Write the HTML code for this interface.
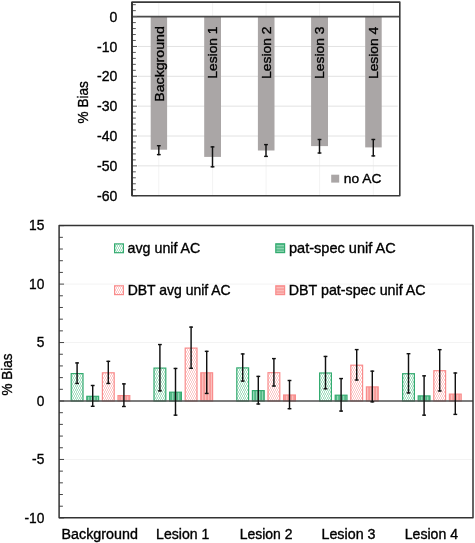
<!DOCTYPE html>
<html><head><meta charset="utf-8"><style>
html,body{margin:0;padding:0;background:#fff;width:475px;height:543px;overflow:hidden}
svg{display:block}
text{font-family:"Liberation Sans", sans-serif;stroke:#000;stroke-width:0.35px}
svg{will-change:transform}
</style></head><body>
<svg width="475" height="543" viewBox="0 0 475 543">
<defs>
<pattern id="gz" width="4" height="4" patternUnits="userSpaceOnUse">
<rect width="4" height="4" fill="#ffffff"/>
<path d="M0,0 L2,2 L0,4 M2,0 L4,2 L2,4" fill="none" stroke="#9cdbbb" stroke-width="0.9"/>
<path d="M-0.5,2 L0.5,2 M3.5,2 L4.5,2" stroke="#9cdbbb" stroke-width="0.9"/>
</pattern>
<pattern id="pz" width="4" height="4" patternUnits="userSpaceOnUse">
<rect width="4" height="4" fill="#ffffff"/>
<path d="M0,0 L2,2 L0,4 M2,0 L4,2 L2,4" fill="none" stroke="#fcc2c2" stroke-width="0.9"/>
</pattern>
<pattern id="gg" width="3" height="3" patternUnits="userSpaceOnUse">
<rect width="3" height="3" fill="#52b886"/>
<rect x="1.2" width="1" height="3" fill="#a3e0c2"/>
</pattern>
<pattern id="pg" width="3" height="3" patternUnits="userSpaceOnUse">
<rect width="3" height="3" fill="#f99a98"/>
<rect x="1.2" width="1" height="3" fill="#fcc8c6"/>
</pattern>
<pattern id="ggl" width="3" height="2.9" patternUnits="userSpaceOnUse" y="244">
<rect width="3" height="2.9" fill="#52b886"/>
<rect y="1.2" width="3" height="1" fill="#a3e0c2"/>
</pattern>
<pattern id="pgl" width="3" height="2.9" patternUnits="userSpaceOnUse" y="286">
<rect width="3" height="2.9" fill="#f99a98"/>
<rect y="1.2" width="3" height="1" fill="#fcc8c6"/>
</pattern>
</defs>
<rect width="475" height="543" fill="#fff"/>
<line x1="158.8" y1="2.1" x2="158.8" y2="195.7" stroke="#f3f3f3" stroke-width="1"/>
<line x1="212.6" y1="2.1" x2="212.6" y2="195.7" stroke="#f3f3f3" stroke-width="1"/>
<line x1="266.1" y1="2.1" x2="266.1" y2="195.7" stroke="#f3f3f3" stroke-width="1"/>
<line x1="319.6" y1="2.1" x2="319.6" y2="195.7" stroke="#f3f3f3" stroke-width="1"/>
<line x1="373.3" y1="2.1" x2="373.3" y2="195.7" stroke="#f3f3f3" stroke-width="1"/>
<line x1="138.0" y1="46.45" x2="397.8" y2="46.45" stroke="#e2e2e2" stroke-width="1"/>
<line x1="138.0" y1="76.30" x2="397.8" y2="76.30" stroke="#e2e2e2" stroke-width="1"/>
<line x1="138.0" y1="106.15" x2="397.8" y2="106.15" stroke="#e2e2e2" stroke-width="1"/>
<line x1="138.0" y1="136.00" x2="397.8" y2="136.00" stroke="#e2e2e2" stroke-width="1"/>
<line x1="138.0" y1="165.85" x2="397.8" y2="165.85" stroke="#e2e2e2" stroke-width="1"/>
<rect x="150.70" y="16.60" width="16.40" height="133.10" fill="#aaa6a6"/>
<rect x="204.20" y="16.60" width="16.80" height="140.30" fill="#aaa6a6"/>
<rect x="257.90" y="16.60" width="16.60" height="133.90" fill="#aaa6a6"/>
<rect x="311.10" y="16.60" width="16.90" height="129.50" fill="#aaa6a6"/>
<rect x="365.20" y="16.60" width="16.50" height="130.80" fill="#aaa6a6"/>
<text transform="translate(163.65,101.73) rotate(-90) scale(1.0490,1)" font-size="13.5" fill="#000">Background</text>
<text transform="translate(217.45,78.71) rotate(-90) scale(1.0249,1)" font-size="13.5" fill="#000">Lesion 1</text>
<text transform="translate(270.95,79.01) rotate(-90) scale(1.0309,1)" font-size="13.5" fill="#000">Lesion 2</text>
<text transform="translate(324.45,79.01) rotate(-90) scale(1.0295,1)" font-size="13.5" fill="#000">Lesion 3</text>
<text transform="translate(378.15,79.01) rotate(-90) scale(1.0253,1)" font-size="13.5" fill="#000">Lesion 4</text>
<line x1="158.8" y1="145.1" x2="158.8" y2="155.2" stroke="#111" stroke-width="1.45"/>
<line x1="156.9" y1="145.7" x2="160.70000000000002" y2="145.7" stroke="#111" stroke-width="1.4"/>
<line x1="156.9" y1="154.6" x2="160.70000000000002" y2="154.6" stroke="#111" stroke-width="1.4"/>
<line x1="212.5" y1="146.3" x2="212.5" y2="167.4" stroke="#111" stroke-width="1.45"/>
<line x1="210.6" y1="146.9" x2="214.4" y2="146.9" stroke="#111" stroke-width="1.4"/>
<line x1="210.6" y1="166.8" x2="214.4" y2="166.8" stroke="#111" stroke-width="1.4"/>
<line x1="266.0" y1="144.0" x2="266.0" y2="157.0" stroke="#111" stroke-width="1.45"/>
<line x1="264.1" y1="144.6" x2="267.9" y2="144.6" stroke="#111" stroke-width="1.4"/>
<line x1="264.1" y1="156.4" x2="267.9" y2="156.4" stroke="#111" stroke-width="1.4"/>
<line x1="319.5" y1="138.9" x2="319.5" y2="153.6" stroke="#111" stroke-width="1.45"/>
<line x1="317.6" y1="139.5" x2="321.4" y2="139.5" stroke="#111" stroke-width="1.4"/>
<line x1="317.6" y1="153.0" x2="321.4" y2="153.0" stroke="#111" stroke-width="1.4"/>
<line x1="373.3" y1="138.9" x2="373.3" y2="156.5" stroke="#111" stroke-width="1.45"/>
<line x1="371.40000000000003" y1="139.5" x2="375.2" y2="139.5" stroke="#111" stroke-width="1.4"/>
<line x1="371.40000000000003" y1="155.9" x2="375.2" y2="155.9" stroke="#111" stroke-width="1.4"/>
<line x1="132.0" y1="16.60" x2="399.8" y2="16.60" stroke="#4a4a4a" stroke-width="1.6"/>
<line x1="132.0" y1="4.66" x2="135.8" y2="4.66" stroke="#606060" stroke-width="1.05"/>
<line x1="132.0" y1="10.63" x2="135.8" y2="10.63" stroke="#606060" stroke-width="1.05"/>
<line x1="132.0" y1="16.60" x2="137.0" y2="16.60" stroke="#606060" stroke-width="1.05"/>
<line x1="132.0" y1="22.57" x2="135.8" y2="22.57" stroke="#606060" stroke-width="1.05"/>
<line x1="132.0" y1="28.54" x2="135.8" y2="28.54" stroke="#606060" stroke-width="1.05"/>
<line x1="132.0" y1="34.51" x2="135.8" y2="34.51" stroke="#606060" stroke-width="1.05"/>
<line x1="132.0" y1="40.48" x2="135.8" y2="40.48" stroke="#606060" stroke-width="1.05"/>
<line x1="132.0" y1="46.45" x2="137.0" y2="46.45" stroke="#606060" stroke-width="1.05"/>
<line x1="132.0" y1="52.42" x2="135.8" y2="52.42" stroke="#606060" stroke-width="1.05"/>
<line x1="132.0" y1="58.39" x2="135.8" y2="58.39" stroke="#606060" stroke-width="1.05"/>
<line x1="132.0" y1="64.36" x2="135.8" y2="64.36" stroke="#606060" stroke-width="1.05"/>
<line x1="132.0" y1="70.33" x2="135.8" y2="70.33" stroke="#606060" stroke-width="1.05"/>
<line x1="132.0" y1="76.30" x2="137.0" y2="76.30" stroke="#606060" stroke-width="1.05"/>
<line x1="132.0" y1="82.27" x2="135.8" y2="82.27" stroke="#606060" stroke-width="1.05"/>
<line x1="132.0" y1="88.24" x2="135.8" y2="88.24" stroke="#606060" stroke-width="1.05"/>
<line x1="132.0" y1="94.21" x2="135.8" y2="94.21" stroke="#606060" stroke-width="1.05"/>
<line x1="132.0" y1="100.18" x2="135.8" y2="100.18" stroke="#606060" stroke-width="1.05"/>
<line x1="132.0" y1="106.15" x2="137.0" y2="106.15" stroke="#606060" stroke-width="1.05"/>
<line x1="132.0" y1="112.12" x2="135.8" y2="112.12" stroke="#606060" stroke-width="1.05"/>
<line x1="132.0" y1="118.09" x2="135.8" y2="118.09" stroke="#606060" stroke-width="1.05"/>
<line x1="132.0" y1="124.06" x2="135.8" y2="124.06" stroke="#606060" stroke-width="1.05"/>
<line x1="132.0" y1="130.03" x2="135.8" y2="130.03" stroke="#606060" stroke-width="1.05"/>
<line x1="132.0" y1="136.00" x2="137.0" y2="136.00" stroke="#606060" stroke-width="1.05"/>
<line x1="132.0" y1="141.97" x2="135.8" y2="141.97" stroke="#606060" stroke-width="1.05"/>
<line x1="132.0" y1="147.94" x2="135.8" y2="147.94" stroke="#606060" stroke-width="1.05"/>
<line x1="132.0" y1="153.91" x2="135.8" y2="153.91" stroke="#606060" stroke-width="1.05"/>
<line x1="132.0" y1="159.88" x2="135.8" y2="159.88" stroke="#606060" stroke-width="1.05"/>
<line x1="132.0" y1="165.85" x2="137.0" y2="165.85" stroke="#606060" stroke-width="1.05"/>
<line x1="132.0" y1="171.82" x2="135.8" y2="171.82" stroke="#606060" stroke-width="1.05"/>
<line x1="132.0" y1="177.79" x2="135.8" y2="177.79" stroke="#606060" stroke-width="1.05"/>
<line x1="132.0" y1="183.76" x2="135.8" y2="183.76" stroke="#606060" stroke-width="1.05"/>
<line x1="132.0" y1="189.73" x2="135.8" y2="189.73" stroke="#606060" stroke-width="1.05"/>
<line x1="132.0" y1="195.70" x2="137.0" y2="195.70" stroke="#606060" stroke-width="1.05"/>
<rect x="132.0" y="2.1" width="267.80" height="193.60" fill="none" stroke="#3a3a3a" stroke-width="1.6" stroke-linejoin="round"/>
<line x1="132.0" y1="2.1" x2="132.0" y2="195.7" stroke="#2e2e2e" stroke-width="1.6"/>
<text transform="translate(109.56,21.70) scale(0.9700,1)" font-size="14.5" fill="#000">0</text>
<text transform="translate(97.04,51.55) scale(0.9700,1)" font-size="14.5" fill="#000">-10</text>
<text transform="translate(97.04,81.40) scale(0.9700,1)" font-size="14.5" fill="#000">-20</text>
<text transform="translate(97.04,111.25) scale(0.9700,1)" font-size="14.5" fill="#000">-30</text>
<text transform="translate(97.04,141.10) scale(0.9700,1)" font-size="14.5" fill="#000">-40</text>
<text transform="translate(97.04,170.95) scale(0.9700,1)" font-size="14.5" fill="#000">-50</text>
<text transform="translate(97.04,200.80) scale(0.9700,1)" font-size="14.5" fill="#000">-60</text>
<text transform="translate(87.60,123.48) rotate(-90) scale(0.9079,1)" font-size="15" fill="#000">% Bias</text>
<rect x="331.2" y="174.7" width="8.0" height="7.9" fill="#aaa6a6"/>
<text transform="translate(343.80,182.90) scale(1.0226,1)" font-size="13.5" fill="#000">no AC</text>
<line x1="65.1" y1="284.10" x2="472.0" y2="284.10" stroke="#f3f3f3" stroke-width="1"/>
<line x1="65.1" y1="342.55" x2="472.0" y2="342.55" stroke="#f3f3f3" stroke-width="1"/>
<line x1="65.1" y1="459.45" x2="472.0" y2="459.45" stroke="#f3f3f3" stroke-width="1"/>
<rect x="71.20" y="373.60" width="11.80" height="27.40" fill="url(#gz)" stroke="#34ab70" stroke-width="1.2"/>
<rect x="86.80" y="396.30" width="11.80" height="4.70" fill="url(#gg)" stroke="#34ab70" stroke-width="1.2"/>
<rect x="102.40" y="372.80" width="11.80" height="28.20" fill="url(#pz)" stroke="#f98c8c" stroke-width="1.2"/>
<rect x="118.00" y="395.60" width="11.80" height="5.40" fill="url(#pg)" stroke="#f98c8c" stroke-width="1.2"/>
<rect x="154.00" y="368.10" width="11.80" height="32.90" fill="url(#gz)" stroke="#34ab70" stroke-width="1.2"/>
<rect x="169.60" y="392.20" width="11.80" height="8.80" fill="url(#gg)" stroke="#34ab70" stroke-width="1.2"/>
<rect x="185.20" y="348.10" width="11.80" height="52.90" fill="url(#pz)" stroke="#f98c8c" stroke-width="1.2"/>
<rect x="200.80" y="372.80" width="11.80" height="28.20" fill="url(#pg)" stroke="#f98c8c" stroke-width="1.2"/>
<rect x="236.80" y="367.90" width="11.80" height="33.10" fill="url(#gz)" stroke="#34ab70" stroke-width="1.2"/>
<rect x="252.40" y="390.60" width="11.80" height="10.40" fill="url(#gg)" stroke="#34ab70" stroke-width="1.2"/>
<rect x="268.00" y="372.70" width="11.80" height="28.30" fill="url(#pz)" stroke="#f98c8c" stroke-width="1.2"/>
<rect x="283.60" y="395.00" width="11.80" height="6.00" fill="url(#pg)" stroke="#f98c8c" stroke-width="1.2"/>
<rect x="319.60" y="373.00" width="11.80" height="28.00" fill="url(#gz)" stroke="#34ab70" stroke-width="1.2"/>
<rect x="335.20" y="395.20" width="11.80" height="5.80" fill="url(#gg)" stroke="#34ab70" stroke-width="1.2"/>
<rect x="350.80" y="365.20" width="11.80" height="35.80" fill="url(#pz)" stroke="#f98c8c" stroke-width="1.2"/>
<rect x="366.40" y="386.90" width="11.80" height="14.10" fill="url(#pg)" stroke="#f98c8c" stroke-width="1.2"/>
<rect x="402.60" y="373.70" width="11.80" height="27.30" fill="url(#gz)" stroke="#34ab70" stroke-width="1.2"/>
<rect x="418.20" y="395.90" width="11.80" height="5.10" fill="url(#gg)" stroke="#34ab70" stroke-width="1.2"/>
<rect x="433.80" y="370.70" width="11.80" height="30.30" fill="url(#pz)" stroke="#f98c8c" stroke-width="1.2"/>
<rect x="449.40" y="394.10" width="11.80" height="6.90" fill="url(#pg)" stroke="#f98c8c" stroke-width="1.2"/>
<line x1="59.1" y1="401.00" x2="473.0" y2="401.00" stroke="#505050" stroke-width="1.5"/>
<line x1="77.10" y1="362.35" x2="77.10" y2="384.05" stroke="#111" stroke-width="1.45"/>
<line x1="75.20" y1="362.95" x2="79.00" y2="362.95" stroke="#111" stroke-width="1.4"/>
<line x1="75.20" y1="383.45" x2="79.00" y2="383.45" stroke="#111" stroke-width="1.4"/>
<line x1="92.70" y1="384.90" x2="92.70" y2="406.90" stroke="#111" stroke-width="1.45"/>
<line x1="90.80" y1="385.50" x2="94.60" y2="385.50" stroke="#111" stroke-width="1.4"/>
<line x1="90.80" y1="406.30" x2="94.60" y2="406.30" stroke="#111" stroke-width="1.4"/>
<line x1="108.30" y1="360.75" x2="108.30" y2="384.05" stroke="#111" stroke-width="1.45"/>
<line x1="106.40" y1="361.35" x2="110.20" y2="361.35" stroke="#111" stroke-width="1.4"/>
<line x1="106.40" y1="383.45" x2="110.20" y2="383.45" stroke="#111" stroke-width="1.4"/>
<line x1="123.90" y1="383.30" x2="123.90" y2="407.10" stroke="#111" stroke-width="1.45"/>
<line x1="122.00" y1="383.90" x2="125.80" y2="383.90" stroke="#111" stroke-width="1.4"/>
<line x1="122.00" y1="406.50" x2="125.80" y2="406.50" stroke="#111" stroke-width="1.4"/>
<line x1="159.90" y1="343.95" x2="159.90" y2="391.45" stroke="#111" stroke-width="1.45"/>
<line x1="158.00" y1="344.55" x2="161.80" y2="344.55" stroke="#111" stroke-width="1.4"/>
<line x1="158.00" y1="390.85" x2="161.80" y2="390.85" stroke="#111" stroke-width="1.4"/>
<line x1="175.50" y1="367.85" x2="175.50" y2="415.75" stroke="#111" stroke-width="1.45"/>
<line x1="173.60" y1="368.45" x2="177.40" y2="368.45" stroke="#111" stroke-width="1.4"/>
<line x1="173.60" y1="415.15" x2="177.40" y2="415.15" stroke="#111" stroke-width="1.4"/>
<line x1="191.10" y1="326.50" x2="191.10" y2="368.90" stroke="#111" stroke-width="1.45"/>
<line x1="189.20" y1="327.10" x2="193.00" y2="327.10" stroke="#111" stroke-width="1.4"/>
<line x1="189.20" y1="368.30" x2="193.00" y2="368.30" stroke="#111" stroke-width="1.4"/>
<line x1="206.70" y1="350.75" x2="206.70" y2="394.05" stroke="#111" stroke-width="1.45"/>
<line x1="204.80" y1="351.35" x2="208.60" y2="351.35" stroke="#111" stroke-width="1.4"/>
<line x1="204.80" y1="393.45" x2="208.60" y2="393.45" stroke="#111" stroke-width="1.4"/>
<line x1="242.70" y1="353.35" x2="242.70" y2="381.65" stroke="#111" stroke-width="1.45"/>
<line x1="240.80" y1="353.95" x2="244.60" y2="353.95" stroke="#111" stroke-width="1.4"/>
<line x1="240.80" y1="381.05" x2="244.60" y2="381.05" stroke="#111" stroke-width="1.4"/>
<line x1="258.30" y1="375.80" x2="258.30" y2="404.60" stroke="#111" stroke-width="1.45"/>
<line x1="256.40" y1="376.40" x2="260.20" y2="376.40" stroke="#111" stroke-width="1.4"/>
<line x1="256.40" y1="404.00" x2="260.20" y2="404.00" stroke="#111" stroke-width="1.4"/>
<line x1="273.90" y1="358.00" x2="273.90" y2="386.60" stroke="#111" stroke-width="1.45"/>
<line x1="272.00" y1="358.60" x2="275.80" y2="358.60" stroke="#111" stroke-width="1.4"/>
<line x1="272.00" y1="386.00" x2="275.80" y2="386.00" stroke="#111" stroke-width="1.4"/>
<line x1="289.50" y1="379.90" x2="289.50" y2="409.30" stroke="#111" stroke-width="1.45"/>
<line x1="287.60" y1="380.50" x2="291.40" y2="380.50" stroke="#111" stroke-width="1.4"/>
<line x1="287.60" y1="408.70" x2="291.40" y2="408.70" stroke="#111" stroke-width="1.4"/>
<line x1="325.50" y1="355.85" x2="325.50" y2="389.35" stroke="#111" stroke-width="1.45"/>
<line x1="323.60" y1="356.45" x2="327.40" y2="356.45" stroke="#111" stroke-width="1.4"/>
<line x1="323.60" y1="388.75" x2="327.40" y2="388.75" stroke="#111" stroke-width="1.4"/>
<line x1="341.10" y1="377.95" x2="341.10" y2="411.65" stroke="#111" stroke-width="1.45"/>
<line x1="339.20" y1="378.55" x2="343.00" y2="378.55" stroke="#111" stroke-width="1.4"/>
<line x1="339.20" y1="411.05" x2="343.00" y2="411.05" stroke="#111" stroke-width="1.4"/>
<line x1="356.70" y1="349.00" x2="356.70" y2="380.60" stroke="#111" stroke-width="1.45"/>
<line x1="354.80" y1="349.60" x2="358.60" y2="349.60" stroke="#111" stroke-width="1.4"/>
<line x1="354.80" y1="380.00" x2="358.60" y2="380.00" stroke="#111" stroke-width="1.4"/>
<line x1="372.30" y1="370.55" x2="372.30" y2="402.45" stroke="#111" stroke-width="1.45"/>
<line x1="370.40" y1="371.15" x2="374.20" y2="371.15" stroke="#111" stroke-width="1.4"/>
<line x1="370.40" y1="401.85" x2="374.20" y2="401.85" stroke="#111" stroke-width="1.4"/>
<line x1="408.50" y1="353.10" x2="408.50" y2="393.50" stroke="#111" stroke-width="1.45"/>
<line x1="406.60" y1="353.70" x2="410.40" y2="353.70" stroke="#111" stroke-width="1.4"/>
<line x1="406.60" y1="392.90" x2="410.40" y2="392.90" stroke="#111" stroke-width="1.4"/>
<line x1="424.10" y1="375.25" x2="424.10" y2="415.75" stroke="#111" stroke-width="1.45"/>
<line x1="422.20" y1="375.85" x2="426.00" y2="375.85" stroke="#111" stroke-width="1.4"/>
<line x1="422.20" y1="415.15" x2="426.00" y2="415.15" stroke="#111" stroke-width="1.4"/>
<line x1="439.70" y1="349.05" x2="439.70" y2="391.55" stroke="#111" stroke-width="1.45"/>
<line x1="437.80" y1="349.65" x2="441.60" y2="349.65" stroke="#111" stroke-width="1.4"/>
<line x1="437.80" y1="390.95" x2="441.60" y2="390.95" stroke="#111" stroke-width="1.4"/>
<line x1="455.30" y1="372.40" x2="455.30" y2="415.00" stroke="#111" stroke-width="1.45"/>
<line x1="453.40" y1="373.00" x2="457.20" y2="373.00" stroke="#111" stroke-width="1.4"/>
<line x1="453.40" y1="414.40" x2="457.20" y2="414.40" stroke="#111" stroke-width="1.4"/>
<line x1="59.1" y1="225.65" x2="64.1" y2="225.65" stroke="#454545" stroke-width="1"/>
<line x1="59.1" y1="237.34" x2="62.9" y2="237.34" stroke="#454545" stroke-width="1"/>
<line x1="59.1" y1="249.03" x2="62.9" y2="249.03" stroke="#454545" stroke-width="1"/>
<line x1="59.1" y1="260.72" x2="62.9" y2="260.72" stroke="#454545" stroke-width="1"/>
<line x1="59.1" y1="272.41" x2="62.9" y2="272.41" stroke="#454545" stroke-width="1"/>
<line x1="59.1" y1="284.10" x2="64.1" y2="284.10" stroke="#454545" stroke-width="1"/>
<line x1="59.1" y1="295.79" x2="62.9" y2="295.79" stroke="#454545" stroke-width="1"/>
<line x1="59.1" y1="307.48" x2="62.9" y2="307.48" stroke="#454545" stroke-width="1"/>
<line x1="59.1" y1="319.17" x2="62.9" y2="319.17" stroke="#454545" stroke-width="1"/>
<line x1="59.1" y1="330.86" x2="62.9" y2="330.86" stroke="#454545" stroke-width="1"/>
<line x1="59.1" y1="342.55" x2="64.1" y2="342.55" stroke="#454545" stroke-width="1"/>
<line x1="59.1" y1="354.24" x2="62.9" y2="354.24" stroke="#454545" stroke-width="1"/>
<line x1="59.1" y1="365.93" x2="62.9" y2="365.93" stroke="#454545" stroke-width="1"/>
<line x1="59.1" y1="377.62" x2="62.9" y2="377.62" stroke="#454545" stroke-width="1"/>
<line x1="59.1" y1="389.31" x2="62.9" y2="389.31" stroke="#454545" stroke-width="1"/>
<line x1="59.1" y1="401.00" x2="64.1" y2="401.00" stroke="#454545" stroke-width="1"/>
<line x1="59.1" y1="412.69" x2="62.9" y2="412.69" stroke="#454545" stroke-width="1"/>
<line x1="59.1" y1="424.38" x2="62.9" y2="424.38" stroke="#454545" stroke-width="1"/>
<line x1="59.1" y1="436.07" x2="62.9" y2="436.07" stroke="#454545" stroke-width="1"/>
<line x1="59.1" y1="447.76" x2="62.9" y2="447.76" stroke="#454545" stroke-width="1"/>
<line x1="59.1" y1="459.45" x2="64.1" y2="459.45" stroke="#454545" stroke-width="1"/>
<line x1="59.1" y1="471.14" x2="62.9" y2="471.14" stroke="#454545" stroke-width="1"/>
<line x1="59.1" y1="482.83" x2="62.9" y2="482.83" stroke="#454545" stroke-width="1"/>
<line x1="59.1" y1="494.52" x2="62.9" y2="494.52" stroke="#454545" stroke-width="1"/>
<line x1="59.1" y1="506.21" x2="62.9" y2="506.21" stroke="#454545" stroke-width="1"/>
<line x1="59.1" y1="517.90" x2="64.1" y2="517.90" stroke="#454545" stroke-width="1"/>
<rect x="59.1" y="225.4" width="413.90" height="292.30" fill="none" stroke="#333" stroke-width="1.5" stroke-linejoin="round"/>
<text transform="translate(29.06,230.45) scale(0.9500,1)" font-size="14.5" fill="#000">15</text>
<text transform="translate(29.06,288.90) scale(0.9500,1)" font-size="14.5" fill="#000">10</text>
<text transform="translate(36.71,347.35) scale(0.9500,1)" font-size="14.5" fill="#000">5</text>
<text transform="translate(36.71,405.80) scale(0.9500,1)" font-size="14.5" fill="#000">0</text>
<text transform="translate(32.09,464.25) scale(0.9500,1)" font-size="14.5" fill="#000">-5</text>
<text transform="translate(24.45,522.70) scale(0.9500,1)" font-size="14.5" fill="#000">-10</text>
<text transform="translate(12.20,395.47) rotate(-90) scale(0.8991,1)" font-size="15" fill="#000">% Bias</text>
<text transform="translate(61.56,538.60) scale(1.0360,1)" font-size="13.8" fill="#000">Background</text>
<text transform="translate(156.07,538.60) scale(1.0204,1)" font-size="13.8" fill="#000">Lesion 1</text>
<text transform="translate(239.68,538.60) scale(1.0125,1)" font-size="13.8" fill="#000">Lesion 2</text>
<text transform="translate(321.46,538.60) scale(1.0369,1)" font-size="13.8" fill="#000">Lesion 3</text>
<text transform="translate(404.77,538.60) scale(1.0208,1)" font-size="13.8" fill="#000">Lesion 4</text>
<rect x="114.60" y="243.90" width="8.8" height="8.8" fill="url(#gz)" stroke="#34ab70" stroke-width="1.2"/>
<text transform="translate(127.56,252.60) scale(1.0034,1)" font-size="14.2" fill="#000">avg unif AC</text>
<rect x="275.80" y="243.80" width="8.8" height="8.8" fill="url(#ggl)" stroke="#34ab70" stroke-width="1.2"/>
<text transform="translate(288.95,252.60) scale(1.0266,1)" font-size="14.2" fill="#000">pat-spec unif AC</text>
<rect x="114.60" y="285.80" width="8.8" height="8.8" fill="url(#pz)" stroke="#f98c8c" stroke-width="1.2"/>
<text transform="translate(127.68,294.60) scale(0.9849,1)" font-size="14.2" fill="#000">DBT avg unif AC</text>
<rect x="275.80" y="285.80" width="8.8" height="8.8" fill="url(#pgl)" stroke="#f98c8c" stroke-width="1.2"/>
<text transform="translate(288.76,294.60) scale(1.0056,1)" font-size="14.2" fill="#000">DBT pat-spec unif AC</text>
</svg>
</body></html>
